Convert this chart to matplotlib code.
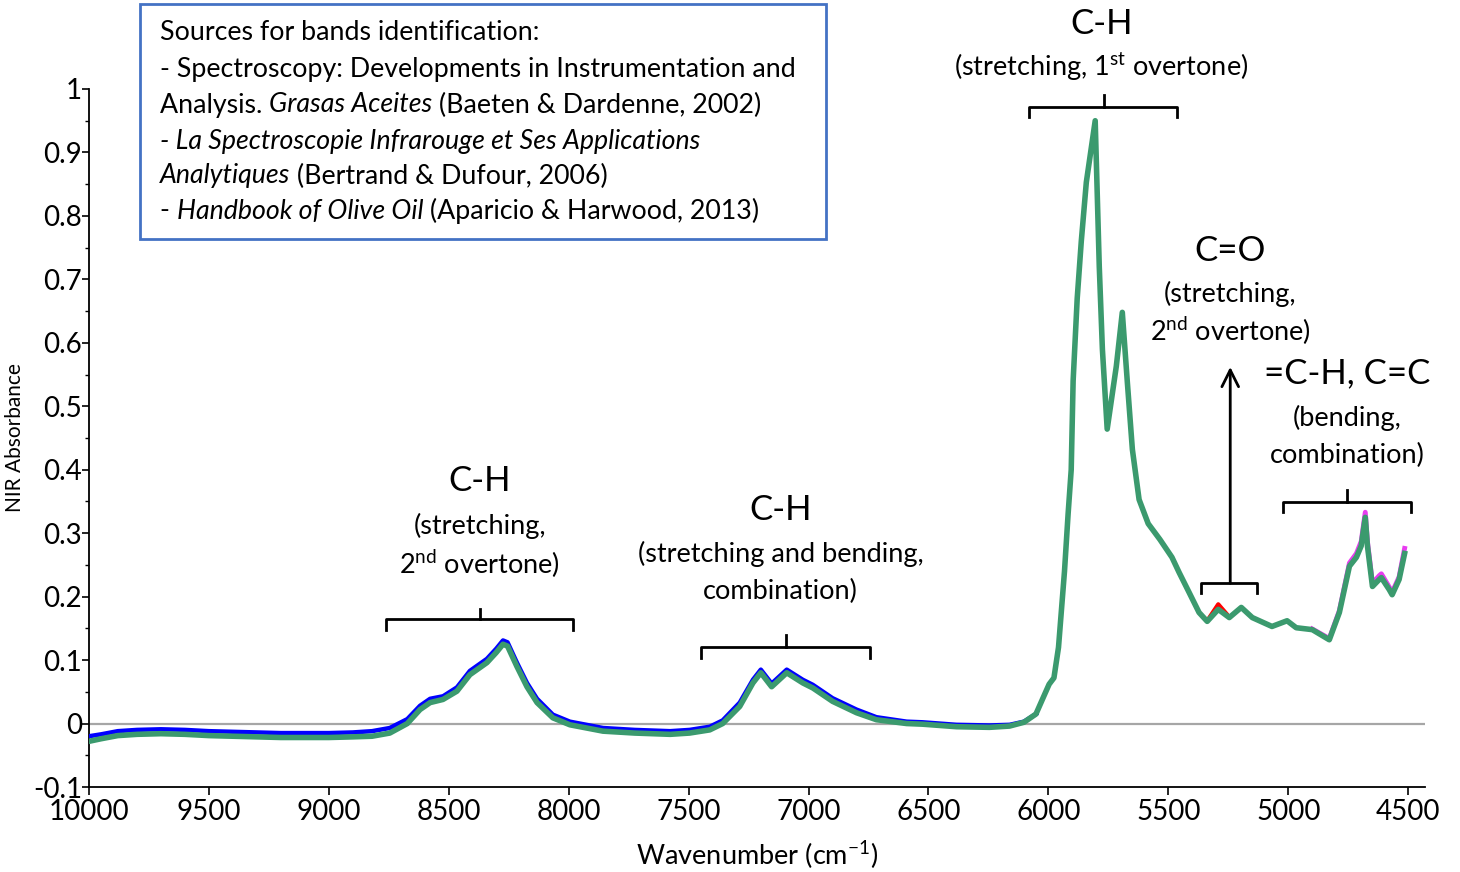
import matplotlib
matplotlib.use("Agg")
import matplotlib.pyplot as plt
from matplotlib.patches import Rectangle
from matplotlib.ticker import MultipleLocator, FuncFormatter

plt.rcParams['font.family'] = ['Lato', 'DejaVu Sans']
plt.rcParams['mathtext.fontset'] = 'custom'
plt.rcParams['mathtext.rm'] = 'Lato'
plt.rcParams['mathtext.it'] = 'Lato:italic'

# green spectrum (the one drawn on top)
wn = [10000, 9950, 9880, 9800, 9700, 9600, 9500, 9400, 9300, 9200, 9100, 9000,
      8900, 8820, 8746, 8673, 8620, 8578, 8524, 8466, 8412, 8341, 8302, 8274,
      8255, 8216, 8174, 8132, 8066, 7995, 7857, 7725, 7577, 7496, 7412, 7358,
      7287, 7232, 7199, 7154, 7091, 7024, 6982, 6900, 6800, 6717, 6591, 6525,
      6383, 6246, 6162, 6102, 6052, 6017, 5997, 5977, 5958, 5933, 5918, 5905,
      5897, 5880, 5863, 5842, 5805, 5788, 5775, 5755, 5717, 5692, 5671, 5650,
      5622, 5584, 5535, 5485, 5455, 5414, 5372, 5338, 5292, 5246, 5196, 5150,
      5068, 5005, 4967, 4900, 4829, 4787, 4745, 4716, 4696, 4679, 4670, 4649,
      4621, 4612, 4579, 4567, 4538, 4515]
abs_green = [-0.028, -0.024, -0.019, -0.017, -0.016, -0.017, -0.019, -0.020, -0.021, -0.022, -0.022, -0.022,
             -0.021, -0.020, -0.015, 0.000, 0.022, 0.033, 0.038, 0.051, 0.077, 0.096, 0.112, 0.125,
             0.122, 0.090, 0.058, 0.033, 0.009, -0.002, -0.012, -0.015, -0.017, -0.015, -0.010, 0.000,
             0.027, 0.064, 0.080, 0.058, 0.080, 0.064, 0.056, 0.035, 0.017, 0.006, 0.000, -0.001,
             -0.005, -0.006, -0.004, 0.002, 0.015, 0.045, 0.062, 0.072, 0.120, 0.240, 0.330, 0.400,
             0.540, 0.670, 0.760, 0.853, 0.950, 0.720, 0.590, 0.464, 0.563, 0.648, 0.538, 0.432,
             0.353, 0.315, 0.290, 0.262, 0.238, 0.207, 0.175, 0.161, 0.180, 0.167, 0.183, 0.167,
             0.153, 0.162, 0.151, 0.148, 0.132, 0.175, 0.248, 0.262, 0.280, 0.325, 0.280, 0.216,
             0.227, 0.230, 0.211, 0.203, 0.227, 0.268]

# blue spectrum, visible just above the green one on the left part
wn_blue = [10000, 9950, 9880, 9800, 9700, 9600, 9500, 9400, 9300, 9200, 9100, 9000,
           8900, 8820, 8746, 8673, 8620, 8578, 8524, 8466, 8412, 8341, 8302, 8274,
           8255, 8216, 8174, 8132, 8066, 7995, 7857, 7725, 7577, 7496, 7412, 7358,
           7287, 7232, 7199, 7154, 7091, 7024, 6982, 6900, 6800, 6717, 6591, 6525,
           6383, 6246, 6162, 6102, 6052]
abs_blue = [-0.020, -0.017, -0.012, -0.010, -0.009, -0.010, -0.012, -0.013, -0.014, -0.015, -0.015, -0.015,
            -0.014, -0.012, -0.007, 0.007, 0.028, 0.039, 0.043, 0.057, 0.083, 0.102, 0.118, 0.131,
            0.128, 0.096, 0.064, 0.039, 0.014, 0.003, -0.007, -0.010, -0.012, -0.010, -0.005, 0.005,
            0.033, 0.069, 0.085, 0.063, 0.085, 0.069, 0.061, 0.040, 0.022, 0.010, 0.003, 0.002,
            -0.002, -0.003, -0.002, 0.003, 0.015]

# magenta spectrum, slightly higher at the low-wavenumber end
wn_mag = [4900, 4829, 4787, 4745, 4716, 4696, 4679, 4670, 4649, 4621, 4612, 4579, 4567, 4538, 4515]
abs_mag = [0.149, 0.134, 0.178, 0.253, 0.268, 0.287, 0.333, 0.287, 0.221, 0.233, 0.236, 0.215, 0.207, 0.231, 0.276]

# red spectrum, a little higher on the C=O band
wn_red = [5338, 5292, 5246]
abs_red = [0.162, 0.188, 0.168]

fig = plt.figure(figsize=(14.6, 8.72), dpi=100)
ax = fig.add_axes([89 / 1460, 1 - 787 / 872, 1336 / 1460, 698 / 872])

ax.axhline(0, color='#a6a6a6', lw=1.6, zorder=1)
ax.plot(wn_red, abs_red, color='#ff0000', lw=3, zorder=2)
ax.plot(wn_mag, abs_mag, color='#e83cf0', lw=3.5, zorder=2)
ax.plot(wn_blue, abs_blue, color='#0000ff', lw=3.2, zorder=3)
ax.plot(wn, abs_green, color='#3b9a6e', lw=4, zorder=4)

ax.set_xlim(10000, 4430)
ax.set_ylim(-0.1, 1.0)
ax.xaxis.set_major_locator(MultipleLocator(500))
ax.yaxis.set_major_locator(MultipleLocator(0.1))
ax.yaxis.set_minor_locator(MultipleLocator(0.05))
ax.yaxis.set_major_formatter(FuncFormatter(lambda v, p: '%g' % round(v, 2) if abs(v) > 1e-9 else '0'))
for s in ['top', 'right']:
    ax.spines[s].set_visible(False)
for s in ['left', 'bottom']:
    ax.spines[s].set_linewidth(1.3)
ax.tick_params(axis='x', labelsize=20, length=6, width=1.2, pad=3)
ax.tick_params(axis='y', which='major', labelsize=20, length=5, width=1.2, pad=0)
ax.tick_params(axis='y', which='minor', length=3, width=1)
ax.set_xlabel('Wavenumber (cm$^{-1}$)', fontsize=19.5, labelpad=10)
ax.set_ylabel('NIR Absorbance', fontsize=15, labelpad=6)


def bracket(x1, x2, xc, y, drop, rise):
    ax.plot([x1, x1, x2, x2], [y - drop, y, y, y - drop], color='black', lw=2, clip_on=False)
    ax.plot([xc, xc], [y, y + rise], color='black', lw=2, clip_on=False)


big = 25
small = 19.5
# C-H 2nd overtone
ax.text(8371, 0.382, 'C-H', fontsize=big, ha='center', va='center')
ax.text(8371, 0.311, '(stretching,', fontsize=small, ha='center', va='center')
ax.text(8371, 0.252, '2$^{\\mathrm{nd}}$ overtone)', fontsize=small, ha='center', va='center')
bracket(8762, 7983, 8371, 0.164, 0.017, 0.017)

# C-H combination
ax.text(7117, 0.336, 'C-H', fontsize=big, ha='center', va='center')
ax.text(7117, 0.267, '(stretching and bending,', fontsize=small, ha='center', va='center')
ax.text(7117, 0.208, 'combination)', fontsize=small, ha='center', va='center')
bracket(7450, 6742, 7096, 0.121, 0.017, 0.019)

# C-H 1st overtone
ax.text(5779, 1.102, 'C-H', fontsize=big, ha='center', va='center')
ax.text(5779, 1.034, '(stretching, 1$^{\\mathrm{st}}$ overtone)', fontsize=small, ha='center', va='center')
bracket(6079, 5463, 5767, 0.972, 0.016, 0.019)

# C=O
ax.text(5242, 0.744, 'C=O', fontsize=big, ha='center', va='center')
ax.text(5242, 0.677, '(stretching,', fontsize=small, ha='center', va='center')
ax.text(5242, 0.618, '2$^{\\mathrm{nd}}$ overtone)', fontsize=small, ha='center', va='center')
bracket(5363, 5129, 5242, 0.221, 0.015, 0.0)
ax.annotate('', xy=(5242, 0.562), xytext=(5242, 0.221),
            arrowprops=dict(arrowstyle='->', color='black', lw=2, mutation_scale=30,
                            shrinkA=0, shrinkB=0))

# =C-H, C=C
ax.text(4754, 0.552, '=C-H, C=C', fontsize=big, ha='center', va='center')
ax.text(4754, 0.481, '(bending,', fontsize=small, ha='center', va='center')
ax.text(4754, 0.423, 'combination)', fontsize=small, ha='center', va='center')
bracket(5021, 4488, 4754, 0.349, 0.016, 0.019)

# sources box
fig.patches.append(Rectangle((140 / 1460, 1 - 239 / 872), 686 / 1460, 235 / 872,
                             transform=fig.transFigure, fill=False,
                             edgecolor='#4472c4', lw=2))

renderer = fig.canvas.get_renderer()
box_size = 19.3


def put_runs(x, y, runs):
    for s, st in runs:
        t = fig.text(x, y, s, fontsize=box_size, style=st, ha='left', va='center')
        w = t.get_window_extent(renderer=renderer).width
        x = x + w / fig.bbox.width


lines = [
    [('Sources for bands identification:', 'normal')],
    [('- Spectroscopy: Developments in Instrumentation and', 'normal')],
    [('Analysis. ', 'normal'), ('Grasas Aceites', 'italic'), (' (Baeten & Dardenne, 2002)', 'normal')],
    [('- La Spectroscopie Infrarouge et Ses Applications', 'italic')],
    [('Analytiques', 'italic'), (' (Bertrand & Dufour, 2006)', 'normal')],
    [('- ', 'normal'), ('Handbook of Olive Oil', 'italic'), (' (Aparicio & Harwood, 2013)', 'normal')],
]
line_y = [33, 70, 105, 141, 176, 211]
for ln, py in zip(lines, line_y):
    put_runs(160 / 1460, 1 - py / 872, ln)

fig.savefig('out.png', dpi=100)
